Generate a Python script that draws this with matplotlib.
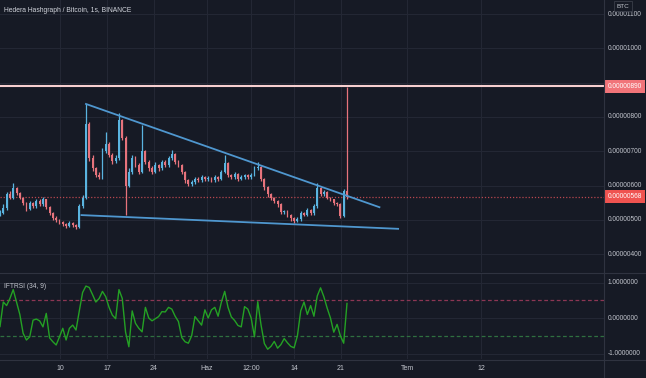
import numpy as np
import matplotlib
matplotlib.use("Agg")
import matplotlib.pyplot as plt
from matplotlib.lines import Line2D

# ---------------- data (prices in 1e-8 BTC) ----------------
first_open = 515
closes = [520, 535, 575, 565, 592, 578, 565, 548, 532, 549,
          540, 556, 545, 560, 537, 521, 506, 500, 494, 489,
          482, 491, 484, 480, 540, 565, 780, 680, 650, 632,
          626, 700, 722, 690, 672, 680, 790, 740, 600, 640,
          680, 660, 640, 700, 670, 650, 640, 660, 650, 670,
          660, 680, 692, 670, 660, 640, 615, 605, 610, 620,
          615, 625, 618, 622, 615, 625, 620, 640, 665, 630,
          625, 635, 620, 625, 630, 625, 632, 650, 655, 620,
          595, 575, 565, 555, 545, 522, 525, 515, 505, 498,
          503, 520, 515, 530, 520, 540, 592, 575, 580, 565,
          560, 550, 545, 512, 585, 568]
highs = [528, 545, 582, 585, 608, 597, 582, 568, 552, 555,
         553, 562, 560, 566, 562, 540, 524, 510, 503, 498,
         492, 496, 494, 488, 545, 572, 838, 785, 690, 655,
         640, 710, 756, 726, 695, 688, 812, 795, 745, 650,
         690, 686, 665, 777, 705, 675, 656, 668, 664, 676,
         674, 686, 704, 695, 674, 663, 642, 618, 616, 626,
         624, 630, 628, 627, 625, 630, 628, 645, 689, 668,
         634, 640, 637, 630, 635, 633, 638, 658, 669, 658,
         622, 598, 578, 568, 558, 548, 530, 528, 518, 508,
         507, 525, 524, 535, 533, 546, 608, 595, 586, 583,
         568, 562, 553, 548, 590, 888]
lows = [510, 516, 530, 560, 562, 572, 560, 543, 526, 528,
        535, 536, 540, 541, 532, 515, 500, 494, 488, 482,
        476, 479, 480, 474, 476, 535, 560, 672, 644, 624,
        618, 620, 695, 684, 664, 666, 676, 732, 514, 596,
        634, 654, 634, 636, 664, 644, 634, 636, 644, 646,
        655, 655, 676, 664, 655, 634, 608, 598, 600, 605,
        610, 610, 612, 614, 610, 610, 614, 616, 636, 624,
        618, 620, 614, 616, 620, 619, 620, 628, 645, 614,
        588, 568, 558, 548, 538, 516, 516, 508, 498, 492,
        494, 498, 510, 510, 514, 515, 536, 570, 570, 560,
        554, 544, 540, 506, 508, 562]
iftrsi = [-0.24, 0.45, 0.35, 0.55, 0.80, 0.45, 0.10, -0.43, -0.62, -0.53,
          -0.06, -0.03, -0.08, -0.25, 0.13, -0.56, -0.67, -0.76, -0.53, -0.29,
          -0.62, -0.29, -0.20, -0.34, 0.20, 0.72, 0.90, 0.86, 0.66, 0.45,
          0.55, 0.75, 0.60, 0.30, 0.08, -0.02, 0.80, 0.55, -0.40, -0.81,
          0.20, -0.15, -0.29, -0.39, 0.30, 0.00, -0.08, -0.02, 0.04, 0.18,
          0.17, 0.30, 0.25, 0.05, -0.10, -0.55, -0.67, -0.71, -0.50, 0.04,
          -0.08, -0.20, 0.23, 0.00, 0.23, 0.30, 0.05, 0.45, 0.75, 0.30,
          0.03, -0.07, -0.21, -0.25, 0.32, 0.25, 0.00, -0.53, 0.46, -0.20,
          -0.72, -0.88, -0.80, -0.66, -0.85, -0.75, -0.58, -0.70, -0.80, -0.84,
          -0.50, 0.20, 0.45, 0.10, 0.35, 0.05, 0.62, 0.85, 0.60, 0.28,
          0.00, -0.40, -0.18, -0.50, -0.71, 0.41]

# trend lines (day, price)
upper_line_days = [12.87, 56.8]
upper_line_prices = [838, 537]
lower_line_days = [12.2, 59.6]
lower_line_prices = [514, 474]
hline_price = 890
last_price = 568

price_ticks = [400, 500, 600, 700, 800, 900, 1000, 1100]
price_tick_labels_shown = [400, 500, 600, 700, 800, 1000, 1100]
ind_ticks = [1.0, 0.0, -1.0]
x_tick_days = [9, 16, 23, 31, 37.6, 44, 51, 61, 72]
x_tick_labels = ["10", "17", "24", "Haz", "12:00", "14", "21", "Tem", "12"]
title = "Hedera Hashgraph / Bitcoin, 1s, BINANCE"
ind_title = "IFTRSI (34, 9)"

# ---------------- style ----------------
W, H = 646, 378
BG = "#161a25"
GRID = "#232734"
SEP = "#2f3340"
TXT = "#c3c6ce"
UP = "#5ab4e0"
DN = "#e7737c"
FONT = ["Liberation Sans Narrow", "Liberation Sans", "DejaVu Sans"]
plt.rcParams["font.family"] = FONT
LBL = 4.7

step = 0.4947
days = np.arange(len(closes)) * step
opens = [first_open] + closes[:-1]

fig = plt.figure(figsize=(W / 100, H / 100), dpi=100, facecolor=BG)
ax1 = fig.add_axes([0, 1 - 272 / H, 604 / W, 272 / H], facecolor=BG)
ax2 = fig.add_axes([0, 1 - 359 / H, 604 / W, 86 / H], facecolor=BG)

xmax = 604 / 6.68
for ax in (ax1, ax2):
    ax.set_xlim(0, xmax)
    for s in ax.spines.values():
        s.set_visible(False)
    ax.set_xticks(x_tick_days)
    ax.tick_params(axis="x", length=0, labelbottom=False)
    ax.grid(True, axis="x", color=GRID, lw=0.8)

ymin = 800 - 155 / 0.343
ymax = 800 + 117 / 0.343
ax1.set_ylim(ymin, ymax)
for p in price_ticks:
    ax1.axhline(p, color=GRID, lw=0.8, zorder=0)
ax1.set_yticks([])

# candles
for d, o, h, l, c in zip(days, opens, highs, lows, closes):
    col = UP if c >= o else DN
    ax1.vlines(d, l, h, color=col, lw=0.9, zorder=3)
    ax1.bar(d, max(abs(c - o), 1.5), bottom=min(o, c), width=0.28,
            color=col, lw=0, zorder=3)

ax1.plot(upper_line_days, upper_line_prices, color="#4f97cf", lw=1.3, zorder=4)
ax1.plot(lower_line_days, lower_line_prices, color="#4f97cf", lw=1.3, zorder=4)
ax1.axhline(hline_price, color="#f6cfcf", lw=1.5, zorder=2)
ax1.axhline(last_price, color="#b9474f", lw=0.9, ls=(0, (1, 1.5)), zorder=2)

# right price labels
for p in price_tick_labels_shown:
    ax1.annotate(f"{p * 1e-8:.8f}", xy=(1, p), xycoords=("axes fraction", "data"),
                 xytext=(2.5, 0), textcoords="offset points", ha="left", va="center",
                 fontsize=LBL, color=TXT, annotation_clip=False)
for p, fc in [(hline_price, "#f17479"), (last_price, "#ef5350")]:
    ax1.annotate(f"{p * 1e-8:.8f}", xy=(1, p), xycoords=("axes fraction", "data"),
                 xytext=(2.5, 0), textcoords="offset points", ha="left", va="center",
                 fontsize=LBL, color="white", annotation_clip=False,
                 bbox=dict(boxstyle="square,pad=0.45", fc=fc, ec="none"))

# indicator
ax2.set_ylim(-(359 - 318) / 35.5, (318 - 273) / 35.5)
ax2.set_yticks([])
for v in ind_ticks:
    ax2.axhline(v, color=GRID, lw=0.8, zorder=0)
ax2.axhline(0.5, color="#8c3654", lw=0.9, ls=(0, (3, 2)))
ax2.axhline(-0.5, color="#2f7040", lw=0.9, ls=(0, (3, 2)))
ax2.plot(days, iftrsi, color="#24a124", lw=1.0, zorder=3)
for v in ind_ticks:
    ax2.annotate(f"{v:.7f}", xy=(1, v), xycoords=("axes fraction", "data"),
                 xytext=(2.5, 0), textcoords="offset points", ha="left", va="center",
                 fontsize=LBL, color=TXT, annotation_clip=False)

# x tick labels
for d, lab in zip(x_tick_days, x_tick_labels):
    ax2.annotate(lab, xy=(d, 0), xycoords=("data", "axes fraction"),
                 xytext=(0, -7), textcoords="offset points", ha="center", va="center",
                 fontsize=5.0, color=TXT, annotation_clip=False)

# separators
fig.add_artist(Line2D([604 / W, 604 / W], [0, 1], color=SEP, lw=0.8))
fig.add_artist(Line2D([0, 1], [1 - 272.5 / H, 1 - 272.5 / H], color=SEP, lw=0.8))
fig.add_artist(Line2D([0, 1], [1 - 359.5 / H, 1 - 359.5 / H], color=SEP, lw=0.8))

fig.text(4 / W, 1 - 10 / H, title, fontsize=4.9, color="#d1d4dc", ha="left", va="center")
fig.text(4 / W, 1 - 286 / H, ind_title, fontsize=4.8, color=TXT, ha="left", va="center")
fig.text(623 / W, 1 - 6 / H, "BTC", fontsize=4.6, color=TXT, ha="center", va="center",
         bbox=dict(boxstyle="square,pad=0.35", fc=BG, ec="#3a3e4a", lw=0.6))

fig.savefig("out.png", dpi=100, facecolor=BG)
